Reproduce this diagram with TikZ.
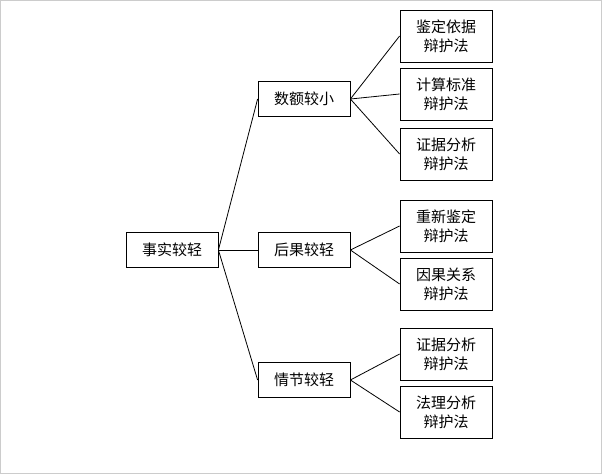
\documentclass[tikz,border=0pt]{standalone}
\usepackage{fontspec}
\setmainfont{Noto Sans CJK SC}
\usetikzlibrary{positioning}
\tikzset{
  box/.style={draw, line width=0.8pt, minimum width=92pt, minimum height=35pt, inner sep=2pt, font=\fontsize{15}{19}\selectfont},
  leaf/.style={box, minimum height=52pt, align=center},
  link/.style={draw, line width=0.8pt}
}
\begin{document}
\begin{tikzpicture}[x=1pt, y=-1pt]
        \useasboundingbox (0,0) rectangle (602,474);
        \draw[gray!40] (0.5,0.5) rectangle (601.5,473.5);

        \node[box] (root) at (172,250) {事实较轻};
        \node[box] (amount) at (304,99) {数额较小};
        \node[box] (result) at (304,250) {后果较轻};
        \node[box] (plot) at (304,380) {情节较轻};

        \node[leaf] (a1) at (446,36) {鉴定依据\\辩护法};
        \node[leaf] (a2) at (446,94) {计算标准\\辩护法};
        \node[leaf] (a3) at (446,154) {证据分析\\辩护法};
        \node[leaf] (b1) at (446,226) {重新鉴定\\辩护法};
        \node[leaf] (b2) at (446,284) {因果关系\\辩护法};
        \node[leaf] (c1) at (446,354) {证据分析\\辩护法};
        \node[leaf] (c2) at (446,412) {法理分析\\辩护法};

        \path[link] (root.east) -- (amount.west);
        \path[link] (root.east) -- (result.west);
        \path[link] (root.east) -- (plot.west);
        \foreach \x in {a1,a2,a3} \path[link] (amount.east) -- (\x.west);
        \foreach \x in {b1,b2} \path[link] (result.east) -- (\x.west);
        \foreach \x in {c1,c2} \path[link] (plot.east) -- (\x.west);
\end{tikzpicture}
\end{document}
